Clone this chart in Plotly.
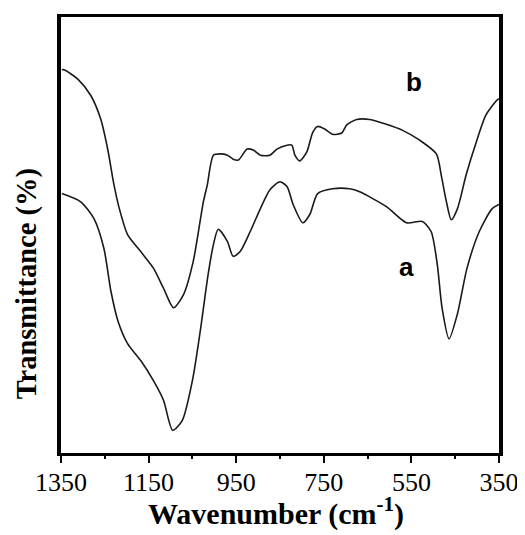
import plotly.graph_objects as go

# Curve b (upper spectrum)
wn_b = [1348, 1343, 1311, 1282, 1259, 1243, 1230, 1218, 1198, 1168, 1139, 1116, 1093, 1070,
        1048, 1025, 1016, 1002, 986, 970, 957, 945, 925, 911, 895, 873, 857, 834, 823, 816,
        805, 789, 775, 764, 748, 730, 709, 698, 675, 645, 607, 570, 532, 493, 482, 470, 459,
        445, 425, 402, 380, 355, 350]
tr_b = [87.9, 87.9, 85.7, 82.0, 76.5, 69.5, 62.0, 56.5, 50.1, 46.2, 42.4, 37.8, 33.3, 36.4,
        44.0, 57.6, 61.5, 68.3, 68.6, 68.3, 67.4, 67.2, 69.7, 69.5, 68.3, 68.3, 69.7, 70.6, 70.6, 68.3,
        67.0, 69.0, 73.6, 74.9, 74.3, 73.1, 73.4, 75.2, 76.5, 76.5, 75.4, 74.0, 71.8, 68.6, 63.8, 57.6, 53.5,
        56.0, 63.8, 71.3, 77.5, 80.9, 81.3]

# Curve a (lower spectrum)
wn_a = [1348, 1305, 1275, 1252, 1236, 1220, 1198, 1168, 1139, 1116, 1095, 1073,
        1050, 1032, 1014, 1002, 991, 970, 957, 941, 918, 895, 873, 850, 834, 820, 798, 782,
        764, 730, 691, 668, 607, 561, 525, 505, 491, 480, 464, 445, 423, 395, 366, 350]
tr_a = [59.5, 57.6, 53.8, 46.9, 37.1, 30.3, 25.1, 21.2, 16.6, 12.1, 5.2, 7.5,
        16.6, 28.0, 41.0, 47.8, 51.3, 48.5, 45.1, 46.2, 50.8, 56.0, 60.4, 62.2, 61.1, 57.0, 52.8, 54.7,
        59.5, 60.6, 60.6, 59.9, 56.5, 52.8, 53.1, 50.8, 43.3, 33.3, 26.2, 31.9, 42.4, 50.8, 56.0, 57.0]

tick_vals = [1350, 1150, 950, 750, 550, 350]
tick_text = ["1350", "1150", "950", "750", "550", "350"]
minor_vals = [1250, 1050, 850, 650, 450]
x_range = [1350, 350]

fig = go.Figure()
for wn, tr in [(wn_b, tr_b), (wn_a, tr_a)]:
    fig.add_trace(go.Scatter(x=wn, y=tr, mode="lines",
                             line=dict(color="#1a1a1a", width=1.6, shape="spline", smoothing=0.7),
                             showlegend=False, hoverinfo="skip"))
# invisible trace so the tick-mark axis (x2) is drawn
fig.add_trace(go.Scatter(x=wn_a, y=tr_a, xaxis="x2", mode="lines",
                         line=dict(width=0), opacity=0, showlegend=False, hoverinfo="skip"))

fig.add_annotation(x=545, y=85.2, text="<b>b</b>", showarrow=False,
                   font=dict(family="Liberation Sans", size=26, color="black"))
fig.add_annotation(x=561, y=42.6, text="<b>a</b>", showarrow=False,
                   font=dict(family="Liberation Sans", size=26, color="black"))

fig.add_annotation(xref="paper", yref="paper", x=-0.0774, y=0.387, textangle=-90,
                   xanchor="center", yanchor="middle",
                   text="<b>Transmittance (%)</b>", showarrow=False,
                   font=dict(family="Liberation Serif", size=28.5, color="black"))
fig.add_annotation(xref="paper", yref="paper", x=0.49, y=-0.135,
                   xanchor="center", yanchor="middle",
                   text="<b>Wavenumber (cm<sup>-1</sup>)</b>", showarrow=False,
                   font=dict(family="Liberation Serif", size=30, color="black"))

# main x axis: labels and frame; x2: tick marks only
fig.update_layout(xaxis=dict(range=x_range, tickmode="array", tickvals=tick_vals, ticktext=tick_text,
                             ticks="", showline=True, linewidth=3, linecolor="black", mirror=True,
                             showgrid=False, zeroline=False, ticklabelstandoff=4,
                             tickfont=dict(family="Liberation Serif", size=26, color="black")),
                  xaxis2=dict(range=x_range, overlaying="x", anchor="y", side="bottom",
                              tickmode="array", tickvals=tick_vals, showticklabels=False,
                              ticks="outside", ticklen=9, tickwidth=2, tickcolor="black",
                              minor=dict(tickmode="array", tickvals=minor_vals, ticks="outside",
                                         ticklen=5, tickwidth=2, tickcolor="black"),
                              showline=False, showgrid=False, zeroline=False))
fig.update_yaxes(range=[0, 100], showticklabels=False, ticks="",
                 showline=True, linewidth=4, linecolor="black", mirror=True,
                 showgrid=False, zeroline=False)

fig.update_layout(width=517, height=527, margin=dict(l=53, r=25, t=6, b=82),
                  plot_bgcolor="white", paper_bgcolor="white")

fig.write_html("out.html")
